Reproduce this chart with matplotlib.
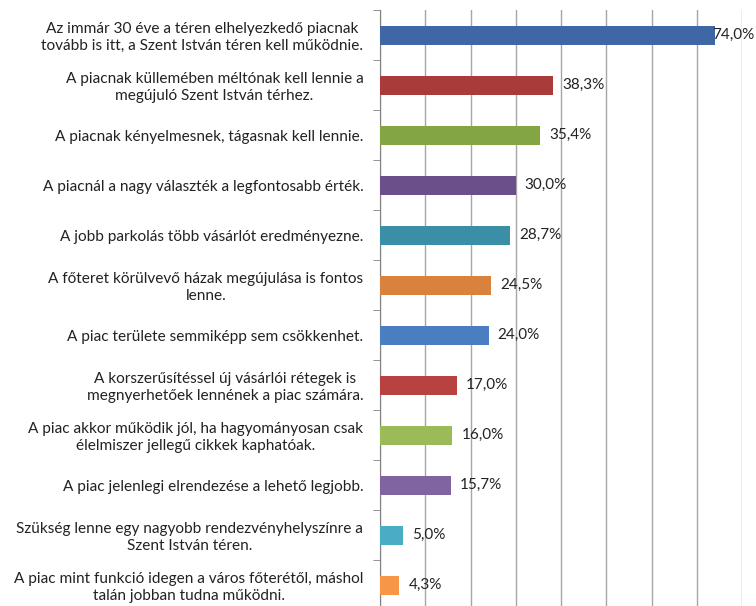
import matplotlib.pyplot as plt
import numpy as np

# Statements (top to bottom) and share of respondents (%).
labels = [
    "Az immár 30 éve a téren elhelyezkedő piacnak\ntovább is itt, a Szent István téren kell működnie.",
    "A piacnak küllemében méltónak kell lennie a\nmegújuló Szent István térhez.",
    "A piacnak kényelmesnek, tágasnak kell lennie.",
    "A piacnál a nagy választék a legfontosabb érték.",
    "A jobb parkolás több vásárlót eredményezne.",
    "A főteret körülvevő házak megújulása is fontos\nlenne.",
    "A piac területe semmiképp sem csökkenhet.",
    "A korszerűsítéssel új vásárlói rétegek is\nmegnyerhetőek lennének a piac számára.",
    "A piac akkor működik jól, ha hagyományosan csak\nélelmiszer jellegű cikkek kaphatóak.",
    "A piac jelenlegi elrendezése a lehető legjobb.",
    "Szükség lenne egy nagyobb rendezvényhelyszínre a\nSzent István téren.",
    "A piac mint funkció idegen a város főterétől, máshol\ntalán jobban tudna működni.",
]
values = [74.0, 38.3, 35.4, 30.0, 28.7, 24.5, 24.0, 17.0, 16.0, 15.7, 5.0, 4.3]
colors = ["#3F67A5", "#A93C3A", "#83A544", "#6B4F8A", "#3A8FA6", "#D8823E",
          "#4A7EC0", "#B8423F", "#9BBB59", "#8064A2", "#4BACC6", "#F79646"]

plt.rcParams['font.family'] = ['Lato', 'DejaVu Sans']

fig = plt.figure(figsize=(7.56, 6.06), dpi=100)
ax = fig.add_axes([380 / 756, -4 / 606, 362 / 756, 600 / 606])

y = np.arange(len(values))
ax.barh(y, values, height=0.38, color=colors, zorder=3)

ax.set_xlim(0, 80)
ax.set_ylim(len(values) - 0.5, -0.5)
ax.set_xticks(np.arange(0, 81, 10))
ax.tick_params(axis='x', length=0, labelbottom=False)
ax.grid(axis='x', color='#A6A6A6', linewidth=1, zorder=0)

ax.set_yticks(y)
ax.set_yticklabels(labels, fontsize=11.1, color='#222222', multialignment='center')
ax.tick_params(axis='y', which='major', length=0, pad=12)
ax.set_yticks(np.arange(-0.5, len(values), 1), minor=True)
ax.tick_params(axis='y', which='minor', length=5, color='#808080', direction='out')

for s in ['top', 'right', 'bottom']:
    ax.spines[s].set_visible(False)
ax.spines['left'].set_color('#808080')

# Value labels; keep the longest one inside the picture.
for yi, v in zip(y, values):
    ax.text(min(v + 2.0, 73.5), yi, f"{v:.1f}%".replace('.', ','),
            va='center', ha='left', fontsize=11, color='#222222', zorder=4)

fig.savefig('out.png', dpi=100)
